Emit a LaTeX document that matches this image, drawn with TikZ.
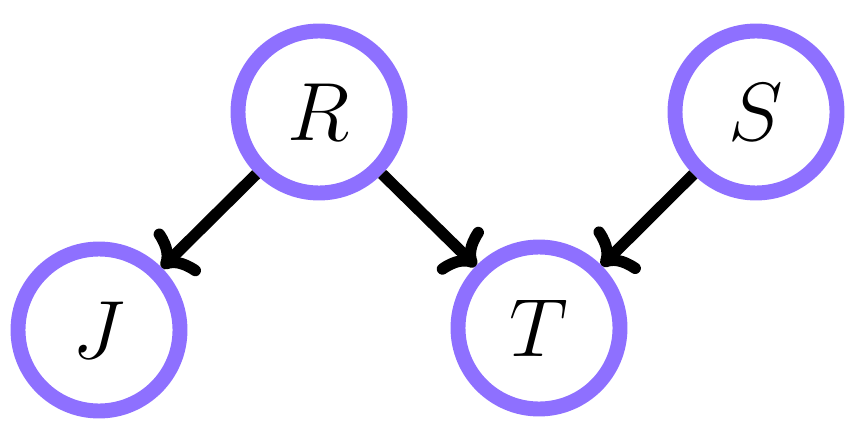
\documentclass[tikz,border=0pt]{standalone}
\usepackage{fix-cm}
\usepackage{tikz}
\usetikzlibrary{arrows.meta, positioning}
\definecolor{nodepurple}{RGB}{142,112,255}
\tikzset{
  var/.style={circle, draw=nodepurple, line width=8.5pt, minimum size=3.24cm, inner sep=0pt, fill=white, font=\fontsize{47}{50}\selectfont},
  arrow/.style={line width=6.5pt, -{Computer Modern Rightarrow[round, length=0.55cm, width=1.25cm]}}
}
\begin{document}
\begin{tikzpicture}
    \useasboundingbox (0,0) rectangle (17.24,8.6);

    \node (R) [var] at (6.38,6.36) {$R$};
    \node (S) [var] at (15.12,6.36) {$S$};
    \node (J) [var] at (1.98,2.00) {$J$};
    \node (T) [var] at (10.78,2.04) {$T$};

    % Kanten
    \draw [arrow] (R) -- (J);
    \draw [arrow] (R) -- (T);
    \draw [arrow] (S) -- (T);

\end{tikzpicture}
\end{document}
